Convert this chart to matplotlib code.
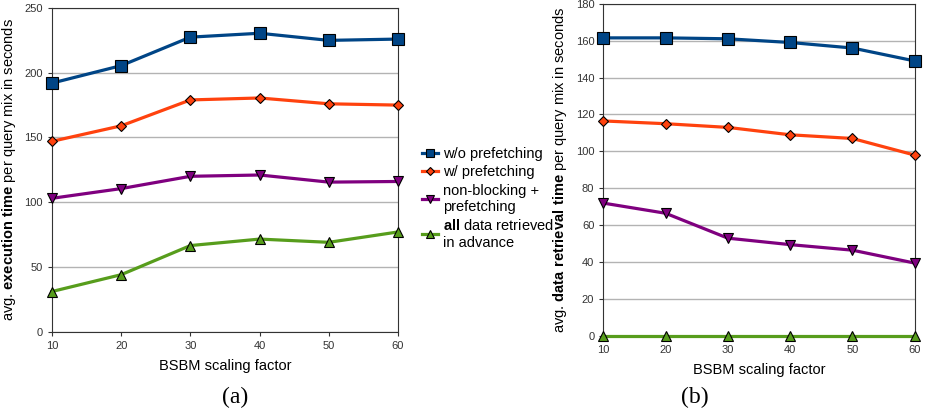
import numpy as np
import matplotlib.pyplot as plt

plt.rcParams['font.family'] = ['Liberation Sans', 'DejaVu Sans']
plt.rcParams['mathtext.fontset'] = 'custom'
plt.rcParams['mathtext.rm'] = 'Liberation Sans'
plt.rcParams['mathtext.bf'] = 'Liberation Sans:bold'

# data
scale = [10, 20, 30, 40, 50, 60]

exec_wo = [192, 205.5, 227.5, 230.5, 225, 226]
exec_w = [147, 159, 179, 180.5, 176, 175]
exec_nb = [103, 110.5, 120, 121, 115.5, 116]
exec_all = [31, 44, 66.5, 71.5, 69, 77]

ret_wo = [161.5, 161.5, 161, 159, 156, 149]
ret_w = [116.5, 115, 113, 109, 107, 98]
ret_nb = [72, 66.5, 53, 49.5, 46.5, 39.5]
ret_all = [0, 0, 0, 0, 0, 0]

labels = ['w/o prefetching', 'w/ prefetching', 'non-blocking +\nprefetching',
          r'$\mathbf{all}$ data retrieved' + '\nin advance']
colors = ['#004586', '#ff420e', '#7f007f', '#579d1c']
markers = ['s', 'D', 'v', '^']
msizes = [8, 5.5, 7.5, 7.5]

fig = plt.figure(figsize=(9.25, 4.13), dpi=100)
ax1 = fig.add_axes([0.0562, 0.197, 0.3741, 0.7836])
ax2 = fig.add_axes([0.6522, 0.1864, 0.3367, 0.8046])


def draw(ax, series, ymax, step, ylabel):
    for vals, c, m, ms, lab in zip(series, colors, markers, msizes, labels):
        ax.plot(scale, vals, color=c, lw=2.3, marker=m, ms=ms, mfc=c,
                mec='black', mew=0.8, label=lab, clip_on=False, zorder=3)
    ax.set_xlim(10, 60)
    ax.set_ylim(0, ymax)
    ax.set_xticks(scale)
    ax.set_yticks(np.arange(0, ymax + 1, step))
    ax.yaxis.grid(True, color='#b3b3b3', lw=1)
    ax.set_axisbelow(True)
    ax.tick_params(labelsize=8, length=3, width=0.8, colors='#333333')
    for s in ax.spines.values():
        s.set_color('#333333')
        s.set_linewidth(0.8)
    ax.set_xlabel('BSBM scaling factor', fontsize=10.5, labelpad=6)
    ax.set_ylabel(ylabel, fontsize=10.5, labelpad=5)


draw(ax1, [exec_wo, exec_w, exec_nb, exec_all], 250, 50,
     r'avg. $\mathbf{execution\ time}$ per query mix in seconds')
draw(ax2, [ret_wo, ret_w, ret_nb, ret_all], 180, 20,
     r'avg. $\mathbf{data\ retrieval\ time}$ per query mix in seconds')

handles, labs = ax1.get_legend_handles_labels()
fig.legend(handles, labs, loc='upper left', bbox_to_anchor=(0.450, 0.658),
           frameon=False, fontsize=10.5, handlelength=1.1, handletextpad=0.35,
           labelspacing=0.3, borderaxespad=0, markerscale=0.8)

fig.text(0.254, 0.025, '(a)', fontsize=17, family='Liberation Serif', ha='center')
fig.text(0.751, 0.025, '(b)', fontsize=17, family='Liberation Serif', ha='center')

plt.savefig('out.png', dpi=100)
